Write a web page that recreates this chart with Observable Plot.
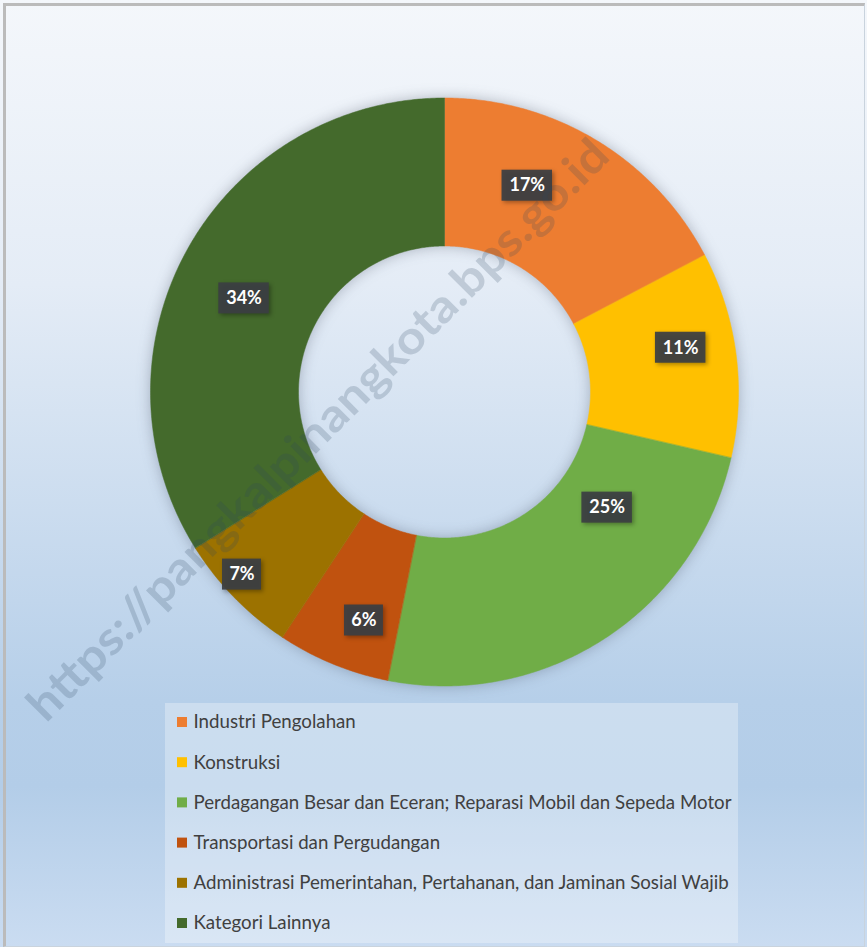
<!DOCTYPE html>
<html>
<head>
<meta charset="utf-8">
<script src="https://cdn.jsdelivr.net/npm/d3@7"></script>
<script src="https://cdn.jsdelivr.net/npm/@observablehq/plot@0.6"></script>
<style>
  html, body { margin: 0; padding: 0; background: #ffffff; }
  #frame {
    position: relative; width: 867px; height: 947px; overflow: hidden;
    background: linear-gradient(to bottom, #F4F7FB 0%, #E4ECF6 30%, #B6CFE9 74%, #B3CDE8 83%, #CADCF1 100%);
  }
  #border {
    position: absolute; left: 3px; top: 3px; width: 858px; height: 940px;
    border-left: 3px solid #BBBBBB; border-top: 3px solid #BBBBBB;
    border-right: 1px solid #C9D3DD; border-bottom: 1px solid #C9D3DD;
    pointer-events: none;
  }
  #chart { position: absolute; left: 0; top: 0; }
</style>
</head>
<body>
<div id="frame"><div id="chart"></div><div id="border"></div></div>
<script>
// ---- data ----
const categories = [
  "Industri Pengolahan",
  "Konstruksi",
  "Perdagangan Besar dan Eceran; Reparasi Mobil dan Sepeda Motor",
  "Transportasi dan Pergudangan",
  "Administrasi Pemerintahan, Pertahanan, dan Jaminan Sosial Wajib",
  "Kategori Lainnya"
];
const shares = [17.3, 11.3, 24.5, 6.2, 6.8, 33.9];
const shareLabels = ["17%", "11%", "25%", "6%", "7%", "34%"];
const colors = ["#ED7D31", "#FFC000", "#70AD47", "#C0520F", "#9C7200", "#446A2C"];
const watermark = "https://pangkalpinangkota.bps.go.id";

// ---- layout ----
const W = 867, H = 947;
const cx = 444, cy = 391.5, rOuter = 294, rInner = 146;
// manual data-label nudges (the original's labels were moved off the centroid)
const labelNudge = [[-31, -18], [18, -16], [43, -69], [3, 25], [-45, 29], [-8, 13]];
const FONT = "Lato, 'Open Sans', sans-serif";

const arcs = d3.pie().sort(null).value(d => d)(shares);
const slices = [];
arcs.forEach((a, i) => {
  const n = Math.max(4, Math.ceil((a.endAngle - a.startAngle) / (Math.PI / 360)));
  for (let k = 0; k <= n; k++) {
    const t = a.startAngle + (a.endAngle - a.startAngle) * k / n;
    slices.push({cat: categories[i], x: cx + rOuter * Math.sin(t), y: cy - rOuter * Math.cos(t)});
  }
  for (let k = n; k >= 0; k--) {
    const t = a.startAngle + (a.endAngle - a.startAngle) * k / n;
    slices.push({cat: categories[i], x: cx + rInner * Math.sin(t), y: cy - rInner * Math.cos(t)});
  }
});

const labelRows = arcs.map((a, i) => {
  const m = (a.startAngle + a.endAngle) / 2, r = (rOuter + rInner) / 2;
  const x = cx + r * Math.sin(m) + labelNudge[i][0];
  const y = cy - r * Math.cos(m) + labelNudge[i][1];
  const w = shareLabels[i].length * 11.5 + 16;
  return {text: shareLabels[i], x, y, x1: x - w / 2, x2: x + w / 2, y1: y - 15.5, y2: y + 15.5};
});

const legX = 165, legY = 703, legW = 573, legH = 240, rowStep = 40.2, row0 = 722;
const legendRows = categories.map((c, i) => ({cat: c, y: row0 + i * rowStep}));

const plot = Plot.plot({
  width: W, height: H, margin: 0,
  x: {domain: [0, W], range: [0, W], axis: null},
  y: {domain: [0, H], range: [0, H], axis: null},
  color: {domain: categories, range: colors},
  style: {background: "transparent", overflow: "visible"},
  marks: [
    Plot.line(slices, {x: "x", y: "y", z: "cat", fill: "cat", stroke: "cat", strokeWidth: 0.5, curve: "linear-closed"}),
    // legend
    Plot.rect([0], {x1: () => legX, x2: () => legX + legW, y1: () => legY, y2: () => legY + legH, fill: "#FFFFFF", fillOpacity: 0.3}),
    Plot.rect(legendRows, {x1: () => legX + 12, x2: () => legX + 22, y1: d => d.y - 5, y2: d => d.y + 5, fill: "cat"}),
    Plot.text(legendRows, {x: () => legX + 28, y: "y", text: "cat", textAnchor: "start", fill: "#404040", fontSize: 18.7, fontFamily: FONT}),
    // data labels
    Plot.rect(labelRows, {x1: "x1", x2: "x2", y1: "y1", y2: "y2", fill: "#3B3E43", fillOpacity: 0.93}),
    Plot.text(labelRows, {x: "x", y: "y", text: "text", fill: "#FFFFFF", fontSize: 18, fontWeight: "bold", fontFamily: FONT}),
    // watermark
    Plot.text([watermark], {x: () => 318, y: () => 430, text: d => d, rotate: -45, fontSize: 46, fontWeight: "bold",
      fontFamily: FONT, fill: "#2E4560", fillOpacity: 0.2})
  ]
});
document.getElementById("chart").appendChild(plot);

// effects
const svg = d3.select(plot);
svg.select('g[aria-label="line"]').style("filter", "drop-shadow(0px 0px 7px rgba(60,70,90,0.35))");
const rects = svg.selectAll('g[aria-label="rect"]').nodes();
if (rects[2]) d3.select(rects[2]).style("filter", "drop-shadow(2px 2px 2px rgba(0,0,0,0.35))");
const texts = svg.selectAll('g[aria-label="text"]').nodes();
const wm = d3.select(texts[texts.length - 1]).select("text");
wm.attr("textLength", 800).attr("lengthAdjust", "spacingAndGlyphs");
</script>
</body>
</html>
